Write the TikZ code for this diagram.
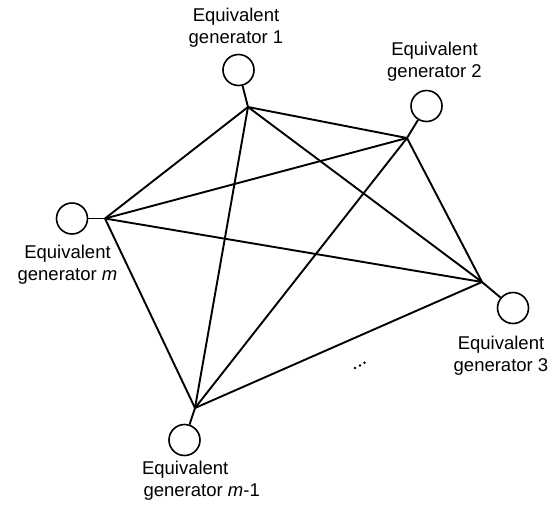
\documentclass[tikz,border=0pt]{standalone}
\usepackage{fontspec}
\setmainfont{Liberation Sans}
\begin{document}
\begin{tikzpicture}[x=1pt,y=-1pt,
  gen/.style={circle,draw,line width=1.6pt,minimum size=31pt,inner sep=0pt},
  lbl/.style={align=center,font=\fontsize{18.5}{22}\selectfont,inner sep=0pt},
  wire/.style={line width=1.9pt},
  dotst/.style={circle,fill,inner sep=0pt,minimum size=2.8pt}]
\useasboundingbox (0,0) rectangle (554,507);
% generators
\node[gen] (g1) at (238.5,70) {};
\node[gen] (g2) at (426.5,106) {};
\node[gen] (gm) at (72,218.5) {};
\node[gen] (g3) at (513,308) {};
\node[gen] (gm1) at (184.5,440) {};
% bus points
\coordinate (b1) at (248,107);
\coordinate (b2) at (407,138);
\coordinate (bm) at (105,218.5);
\coordinate (b3) at (482,282);
\coordinate (bm1) at (195,408);
% labels
\node[lbl] (l1) at (236,28) {Equivalent\\generator 1};
\node[lbl] (l2) at (434.5,62) {Equivalent\\generator 2};
\node[lbl] (lm) at (67.5,265) {Equivalent\\generator \textit{m}};
\node[lbl] (l3) at (501,356) {Equivalent\\generator 3};
\node[lbl] (lm1) at (201.7,481) {Equivalent\hspace*{33pt}\\generator \textit{m}-1};
% generator stubs
\draw[wire] (g1) -- (b1);
\draw[wire] (g2) -- (b2);
\draw[wire] (gm) -- (bm);
\draw[wire] (g3) -- (b3);
\draw[wire] (gm1) -- (bm1);
% complete mesh
\draw[wire] (b1) -- (b2);
\draw[wire] (b1) -- (bm);
\draw[wire] (b1) -- (b3);
\draw[wire] (b1) -- (bm1);
\draw[wire] (b2) -- (bm);
\draw[wire] (b2) -- (b3);
\draw[wire] (b2) -- (bm1);
\draw[wire] (bm) -- (b3);
\draw[wire] (bm) -- (bm1);
\draw[wire] (b3) -- (bm1);
% dots
\node[dotst] (d1) at (355,368) {};
\node[dotst] (d2) at (360,365.5) {};
\node[dotst] (d3) at (364.5,362.7) {};
\end{tikzpicture}
\end{document}
